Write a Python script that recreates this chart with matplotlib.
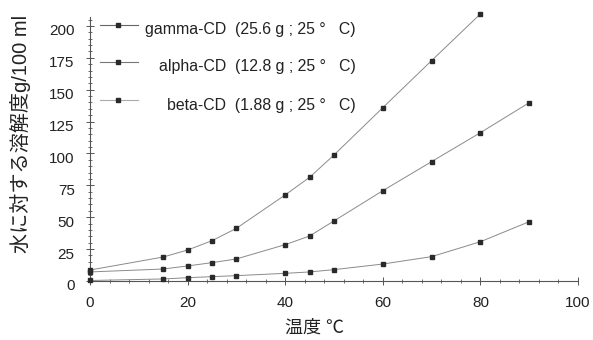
import numpy as np
import matplotlib
matplotlib.use("Agg")
import matplotlib.pyplot as plt
import matplotlib.ticker as ticker
from matplotlib.transforms import ScaledTranslation

plt.rcParams['font.family'] = ['Liberation Sans', 'Noto Sans CJK JP', 'DejaVu Sans']

# Données (solubilité g/100 ml en fonction de la température)
temp_gamma = [0, 15, 20, 25, 30, 40, 45, 50, 60, 70, 80]
sol_gamma = [8.6, 18.8, 24.3, 31.6, 41.3, 67.5, 81.3, 98.8, 135.9, 172.8, 209.4]

temp_alpha = [0, 15, 20, 25, 30, 40, 45, 50, 60, 70, 80, 90]
sol_alpha = [7.1, 9.4, 11.8, 14.4, 17.3, 28.5, 35.3, 47.1, 70.8, 93.6, 116.3, 139.8]

temp_beta = [0, 15, 20, 25, 30, 40, 45, 50, 60, 70, 80, 90]
sol_beta = [0.4, 1.6, 2.6, 3.4, 4.2, 6.0, 7.1, 8.9, 13.3, 19.1, 30.8, 46.5]

labels = ["gamma-CD  (25.6 g ; 25 °   C)",
          "alpha-CD  (12.8 g ; 25 °   C)",
          "beta-CD  (1.88 g ; 25 °   C)"]

x_label = "温度 ℃"
y_label = "水に対する溶解度g/100 ml"

fig = plt.figure(figsize=(5.93, 3.40), dpi=100)
ax = fig.add_axes([90 / 593, 1 - 281 / 340, 488 / 593, 264 / 340])

line_col = "#8a8a8a"
mark_col = "#2a2a2a"
series = [(temp_gamma, sol_gamma), (temp_alpha, sol_alpha), (temp_beta, sol_beta)]
for t, s in series:
    ax.plot(t, s, color=line_col, lw=0.7, marker="s", markersize=2.8,
            markerfacecolor=mark_col, markeredgecolor=mark_col, clip_on=False, zorder=3)

ax.set_xlim(0, 100)
ax.set_ylim(0, 207)

for side in ["top", "right"]:
    ax.spines[side].set_visible(False)
for side in ["left", "bottom"]:
    ax.spines[side].set_color("#555555")
    ax.spines[side].set_linewidth(0.8)

ax.xaxis.set_major_locator(ticker.MultipleLocator(20))
ax.yaxis.set_major_locator(ticker.MultipleLocator(25))
ax.xaxis.set_minor_locator(ticker.AutoMinorLocator(5))
ax.yaxis.set_minor_locator(ticker.AutoMinorLocator(5))
ax.tick_params(which="major", direction="inout", length=6, width=0.7, color="#555555",
               labelsize=11, labelcolor="#222222")
ax.tick_params(which="minor", direction="inout", length=3.5, width=0.6, color="#555555")
ax.tick_params(axis="y", pad=8)
ax.tick_params(axis="x", pad=8)

# petits décalages des étiquettes comme sur l'original
for lab in ax.get_yticklabels():
    lab.set_transform(lab.get_transform() + ScaledTranslation(0, -4 / 100, fig.dpi_scale_trans))

ax.set_xlabel(x_label, fontsize=13, color="#222222", va="center")
ax.xaxis.set_label_coords(0.46, -0.178)
ax.set_ylabel(y_label, fontsize=14.5, color="#222222", va="center")
ax.yaxis.set_label_coords(-0.143, 0.557)

# légende dessinée à la main (texte aligné à droite)
leg_y = [0.970, 0.830, 0.686]
txt_y = [0.951, 0.811, 0.663]
leg_lc = ["#666666", "#777777", "#aaaaaa"]
for i, lab in enumerate(labels):
    ax.plot([0.020, 0.058, 0.099], [leg_y[i]] * 3, transform=ax.transAxes,
            color=leg_lc[i], lw=0.8, marker="s", markersize=2.8, markevery=[1],
            markerfacecolor=mark_col, markeredgecolor=mark_col, clip_on=False)
    ax.text(0.545, txt_y[i], lab, transform=ax.transAxes, ha="right", va="center",
            fontsize=11.4, color="#222222")

fig.savefig("out.png", dpi=100)
